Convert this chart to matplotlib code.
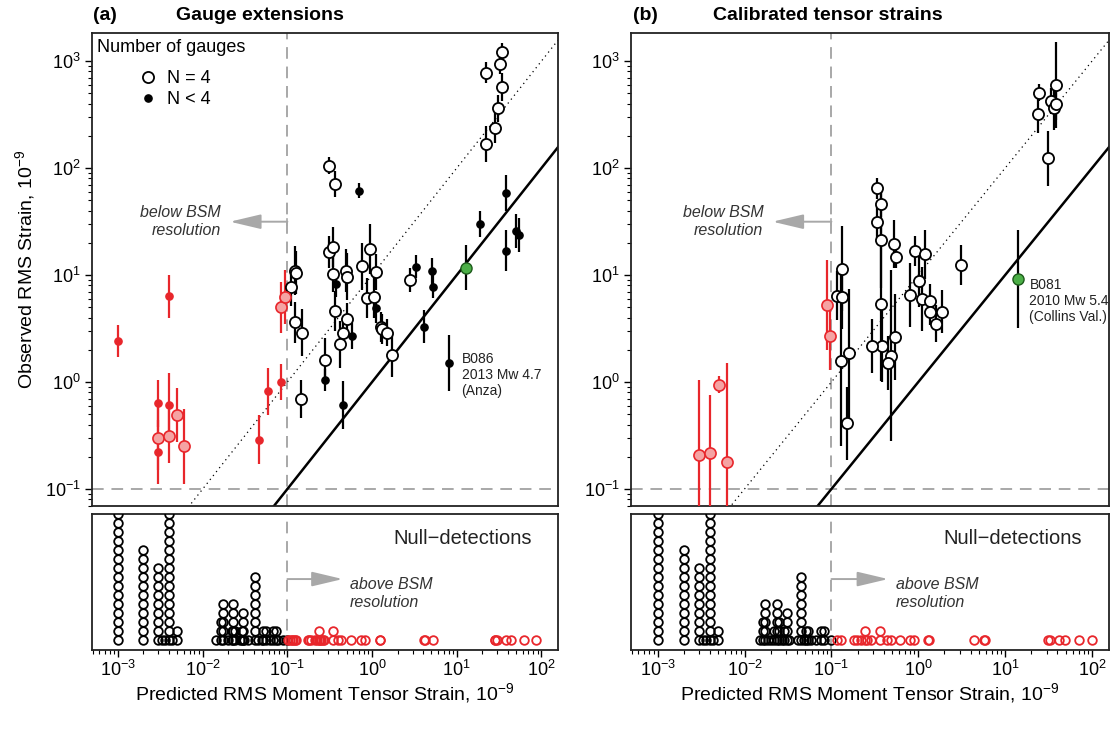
import numpy as np
import matplotlib.pyplot as plt
from matplotlib.ticker import LogLocator, NullFormatter, NullLocator
from matplotlib.lines import Line2D

plt.rcParams['font.family'] = ['Liberation Sans', 'DejaVu Sans']
plt.rcParams['mathtext.default'] = 'regular'

RED = '#e8262b'
PINK = '#f5a3a3'
GREEN = '#4caf47'
GREY = '#a8a8a8'
THRESH = 0.1          # BSM resolution level

# ---------------- (a) gauge extensions ----------------
# predicted strain, observed strain, error half-width (log10 units), N=4 flag
a_pred = [0.001, 0.004, 0.003, 0.004, 0.003, 0.003, 0.004, 0.005, 0.006, 0.046, 0.059, 0.085, 0.084, 0.093,
          34, 32, 22.3, 34.4, 30.8, 28.4, 21.9, 0.31, 0.36, 0.70,
          0.31, 0.35, 0.35, 0.37, 0.36, 0.49, 0.51, 0.50, 0.45, 0.42, 0.58, 0.28, 0.28, 0.45,
          0.75, 0.95, 1.10, 0.86, 1.04, 1.12, 1.26, 1.30, 1.50, 1.72,
          2.83, 3.27, 5.1, 5.3, 4.06, 18.7, 37.9, 37.9, 50.7, 55, 8.2,
          0.109, 0.123, 0.127, 0.122, 0.149, 0.144]
a_obs = [2.4, 6.3, 0.63, 0.61, 0.22, 0.30, 0.31, 0.49, 0.25, 0.29, 0.82, 1.0, 5.0, 6.2,
         1220, 930, 780, 570, 361, 235, 167, 105, 71, 61,
         16.3, 18.3, 10.2, 8.2, 4.6, 11, 9.6, 3.9, 2.85, 2.25, 2.7, 1.6, 1.04, 0.61,
         12.1, 17.5, 10.6, 6.1, 6.2, 4.9, 3.25, 3.1, 2.9, 1.79,
         9.0, 12.0, 10.9, 7.8, 3.3, 29.8, 58.7, 16.9, 25.8, 23.5, 1.51,
         7.7, 11.0, 10.5, 3.6, 2.9, 0.69]
a_err = [0.15, 0.2, 0.22, 0.3, 0.3, 0.3, 0.25, 0.25, 0.35, 0.23, 0.22, 0.17, 0.24, 0.25,
         0.08, 0.09, 0.1, 0.13, 0.125, 0.14, 0.17, 0.08, 0.12, 0.07,
         0.15, 0.19, 0.17, 0.12, 0.19, 0.2, 0.22, 0.15, 0.14, 0.22, 0.12, 0.21, 0.1, 0.22,
         0.22, 0.23, 0.17, 0.19, 0.19, 0.14, 0.14, 0.14, 0.13, 0.21,
         0.11, 0.11, 0.12, 0.11, 0.15, 0.12, 0.17, 0.19, 0.16, 0.16, 0.26,
         0.18, 0.23, 0.2, 0.19, 0.22, 0.18]
a_n4 = [0, 0, 0, 0, 0, 1, 1, 1, 1, 0, 0, 0, 1, 1,
        1, 1, 1, 1, 1, 1, 1, 1, 1, 0,
        1, 1, 1, 0, 1, 1, 1, 1, 1, 1, 0, 1, 0, 0,
        1, 1, 1, 1, 1, 0, 1, 1, 1, 1,
        1, 0, 0, 0, 0, 0, 0, 0, 0, 0, 0,
        1, 1, 1, 1, 1, 1]
a_event = (12.7, 11.7, 0.21)
a_event_label = 'B086\n2013 Mw 4.7\n(Anza)'
a_event_label_pos = (11.4, 1.16)

# null detections: predicted strain and number stacked at that value
a_null_x = [0.001, 0.002, 0.003, 0.0033, 0.0036, 0.004, 0.0043, 0.005,
            0.0142, 0.0163, 0.0172, 0.020, 0.0219, 0.0225, 0.024, 0.0275, 0.029, 0.030, 0.031, 0.0345,
            0.042, 0.045, 0.0495, 0.0516, 0.0566, 0.062, 0.068, 0.074, 0.078, 0.089, 0.098,
            0.102, 0.107, 0.112, 0.117, 0.122, 0.126, 0.175, 0.182, 0.192, 0.21, 0.224, 0.236, 0.245,
            0.252, 0.26, 0.269, 0.346, 0.396, 0.434, 0.57, 0.748, 0.818, 1.23, 1.25, 4.06, 4.2, 5.2,
            27.9, 28.5, 29.7, 38.4, 44, 63, 86.5]
a_null_n = [16, 11, 9, 1, 1, 16, 1, 2,
            1, 3, 5, 1, 2, 5, 2, 1, 2, 4, 1, 1,
            8, 1, 1, 2, 2, 1, 2, 2, 1, 1, 1,
            1, 1, 1, 1, 1, 1, 1, 1, 1, 1, 1, 2, 1,
            1, 1, 1, 2, 1, 1, 1, 1, 1, 1, 1, 1, 1, 1,
            1, 1, 1, 1, 1, 1, 1]

# ---------------- (b) calibrated tensor strains ----------------
b_pred = [0.0030, 0.0040, 0.0051, 0.0062, 0.088, 0.097,
          0.332, 0.376, 0.332, 0.376, 0.369, 0.386, 0.296, 0.525, 0.549, 0.535, 0.481, 0.448,
          0.132, 0.115, 0.132, 0.130, 0.159, 0.153,
          0.80, 0.914, 1.18, 1.02, 1.11, 1.38, 1.35, 1.59, 1.85, 3.06,
          24.3, 38.2, 33.8, 36.2, 38.9, 23.7, 31.2]
b_obs = [0.208, 0.218, 0.94, 0.177, 5.27, 2.71,
         64.6, 45.8, 31.1, 21.2, 5.36, 2.18, 2.18, 19.5, 14.6, 2.65, 1.76, 1.50,
         11.5, 6.4, 6.27, 1.58, 1.85, 0.41,
         6.5, 16.7, 15.6, 8.85, 5.93, 5.75, 4.48, 3.51, 4.54, 12.4,
         506, 597, 425, 361, 396, 320, 123]
b_err = [0.70, 0.54, 0.08, 0.93, 0.42, 0.32,
         0.1, 0.12, 0.15, 0.45, 0.72, 0.34, 0.25, 0.22, 0.1, 0.4, 0.8, 0.25,
         0.4, 0.23, 0.3, 0.8, 0.6, 0.34,
         0.3, 0.14, 0.23, 0.25, 0.3, 0.16, 0.12, 0.17, 0.2, 0.19,
         0.08, 0.4, 0.12, 0.2, 0.15, 0.18, 0.26]
b_n4 = [1] * len(b_pred)
b_event = (14.0, 9.2, 0.46)
b_event_label = 'B081\n2010 Mw 5.4\n(Collins Val.)'
b_event_label_pos = (19.0, 5.7)

b_null_x = [0.001, 0.002, 0.003, 0.0033, 0.0036, 0.004, 0.0043, 0.005,
            0.015, 0.0161, 0.0173, 0.0184, 0.020, 0.0219, 0.0235, 0.0246, 0.0273, 0.0285, 0.0306, 0.0326,
            0.0407, 0.0444, 0.0484, 0.0507, 0.0538, 0.0578, 0.066, 0.0754, 0.0822, 0.099,
            0.117, 0.128, 0.182, 0.199, 0.217, 0.243, 0.259, 0.283, 0.362, 0.44, 0.481, 0.61, 0.80,
            0.89, 1.30, 1.32, 4.4, 5.7, 5.85, 30.9, 33.2, 41.3, 49.3, 70, 100]
b_null_n = [16, 11, 9, 1, 1, 16, 1, 2,
            1, 3, 5, 1, 1, 2, 5, 3, 1, 2, 4, 1,
            1, 8, 1, 2, 2, 1, 1, 2, 2, 1,
            1, 1, 1, 1, 1, 2, 1, 1, 2, 1, 1, 1, 1,
            1, 1, 1, 1, 1, 1, 1, 1, 1, 1, 1, 1]

XLIM = (10 ** -3.307, 10 ** 2.195)
YLIM = (10 ** -1.159, 10 ** 3.262)
NULL_YLIM = (-0.144, 14.97)


def style_log_axis(axis):
    axis.set_major_locator(LogLocator(base=10, numticks=20))
    axis.set_minor_locator(LogLocator(base=10, subs=np.arange(2, 10), numticks=20))
    axis.set_minor_formatter(NullFormatter())


def draw_top(ax, pred, obs, err, n4, event, ev_label, ev_pos):
    pred = np.asarray(pred, float)
    obs = np.asarray(obs, float)
    err = np.asarray(err, float)
    full = np.asarray(n4) == 1
    below = pred < THRESH
    lo = obs / 10 ** err
    hi = obs * 10 ** err
    cols = np.where(below, RED, 'black')
    ax.vlines(pred, lo, hi, colors=cols, lw=1.6, zorder=3)
    ex, ey, ee = event
    ax.vlines(ex, ey / 10 ** ee, ey * 10 ** ee, colors='black', lw=1.6, zorder=3)

    # reference lines
    xl = np.array(XLIM)
    ax.plot(xl, xl, color='black', lw=1.8, zorder=2)
    ax.plot(xl, 10 * xl, color='black', lw=0.9, ls=(0, (1, 3)), zorder=2)
    ax.axvline(THRESH, color=GREY, lw=1.4, ls=(0, (6, 4)), zorder=1)
    ax.axhline(THRESH, color=GREY, lw=1.4, ls=(0, (6, 4)), zorder=1)

    m = full & ~below
    ax.plot(pred[m], obs[m], 'o', ms=8, mfc='white', mec='black', mew=1.3, zorder=5)
    m = ~full & ~below
    ax.plot(pred[m], obs[m], 'o', ms=5.2, mfc='black', mec='black', zorder=5)
    m = full & below
    ax.plot(pred[m], obs[m], 'o', ms=8, mfc=PINK, mec=RED, mew=1.2, zorder=5)
    m = ~full & below
    ax.plot(pred[m], obs[m], 'o', ms=5.2, mfc=RED, mec=RED, zorder=5)
    ax.plot([ex], [ey], 'o', ms=8, mfc=GREEN, mec='#1d5a1b', mew=1.0, zorder=6)
    ax.text(ev_pos[0], ev_pos[1], ev_label, fontsize=10, ha='left', va='center',
            linespacing=1.15, color='#222222')

    ax.set_xscale('log')
    ax.set_yscale('log')
    ax.set_xlim(XLIM)
    ax.set_ylim(YLIM)
    style_log_axis(ax.yaxis)
    ax.xaxis.set_major_locator(NullLocator())
    ax.xaxis.set_minor_locator(NullLocator())
    ax.tick_params(axis='y', which='major', length=5, width=1, labelsize=13, pad=3)
    ax.tick_params(axis='y', which='minor', length=3, width=0.8)

    # "below BSM resolution" arrow
    ay = 31.5
    ax.annotate('', xy=(0.021, ay), xytext=(THRESH, ay),
                arrowprops=dict(arrowstyle='-|>,head_length=1.9,head_width=0.45',
                                color=GREY, lw=1.4, mutation_scale=10, shrinkA=0, shrinkB=0))
    ax.plot([THRESH, THRESH], [ay / 1.07, ay * 1.07], color=GREY, lw=1.2)
    ax.text(0.0165, ay, 'below BSM\nresolution', style='italic', fontsize=11.5,
            ha='right', va='center', color='#333333', linespacing=1.25)


def draw_null(ax, null_x, null_n):
    for x, n in zip(null_x, null_n):
        col = 'black' if x < THRESH else RED
        rows = np.arange(1, n + 1)
        ax.plot(np.full(n, x), rows, 'o', ms=6.2, mfc='none', mec=col, mew=1.3,
                clip_on=True, zorder=3)
    ax.axvline(THRESH, color=GREY, lw=1.4, ls=(0, (6, 4)), zorder=1)
    ax.set_xscale('log')
    ax.set_xlim(XLIM)
    ax.set_ylim(NULL_YLIM)
    ax.yaxis.set_major_locator(NullLocator())
    style_log_axis(ax.xaxis)
    ax.tick_params(axis='x', which='major', length=5, width=1, labelsize=13, pad=2)
    ax.tick_params(axis='x', which='minor', length=3, width=0.8)
    ax.text(0.944, 0.82, 'Null\u2212detections', transform=ax.transAxes, fontsize=14.5,
            ha='right', va='center', color='#222222')
    ry = 7.74
    ax.annotate('', xy=(0.45, ry), xytext=(THRESH, ry),
                arrowprops=dict(arrowstyle='-|>,head_length=1.9,head_width=0.45',
                                color=GREY, lw=1.4, mutation_scale=10, shrinkA=0, shrinkB=0))
    ax.text(0.55, 6.1, 'above BSM\nresolution', style='italic', fontsize=11.5,
            ha='left', va='center', color='#333333', linespacing=1.25)
    ax.set_xlabel('Predicted RMS Moment Tensor Strain, $10^{-9}$', fontsize=14, labelpad=1)


fig = plt.figure(figsize=(11.18, 7.34), dpi=100)
W, H = 1118.0, 734.0
axa = fig.add_axes([92 / W, 1 - 506 / H, 466 / W, 473 / H])
axa_n = fig.add_axes([92 / W, 1 - 650 / H, 466 / W, 136 / H])
axb = fig.add_axes([631 / W, 1 - 506 / H, 478 / W, 473 / H])
axb_n = fig.add_axes([631 / W, 1 - 650 / H, 478 / W, 136 / H])

draw_top(axa, a_pred, a_obs, a_err, a_n4, a_event, a_event_label, a_event_label_pos)
draw_top(axb, b_pred, b_obs, b_err, b_n4, b_event, b_event_label, b_event_label_pos)
draw_null(axa_n, a_null_x, a_null_n)
draw_null(axb_n, b_null_x, b_null_n)

for ax in (axa, axa_n, axb, axb_n):
    for s in ax.spines.values():
        s.set_linewidth(1.3)
        s.set_color('#222222')

axa.set_ylabel('Observed RMS Strain, $10^{-9}$', fontsize=14, labelpad=6)

# legend
axa.text(0.011, 0.970, 'Number of gauges', transform=axa.transAxes, fontsize=13,
         ha='left', va='center')
handles = [Line2D([], [], ls='none', marker='o', ms=8, mfc='white', mec='black', mew=1.3),
           Line2D([], [], ls='none', marker='o', ms=5.2, mfc='black', mec='black')]
axa.legend(handles, ['N = 4', 'N < 4'], loc='upper left', bbox_to_anchor=(0.096, 0.922),
           frameon=False, fontsize=13, handlelength=1.2, handletextpad=0.5, labelspacing=0.25,
           borderpad=0, borderaxespad=0)

# panel titles
fig.text(93 / W, 1 - 15 / H, '(a)', fontsize=14, fontweight='bold', ha='left', va='center')
fig.text(176 / W, 1 - 15 / H, 'Gauge extensions', fontsize=14, fontweight='bold',
         ha='left', va='center')
fig.text(633 / W, 1 - 15 / H, '(b)', fontsize=14, fontweight='bold', ha='left', va='center')
fig.text(713 / W, 1 - 15 / H, 'Calibrated tensor strains', fontsize=14, fontweight='bold',
         ha='left', va='center')

fig.savefig('out.png', dpi=100)
